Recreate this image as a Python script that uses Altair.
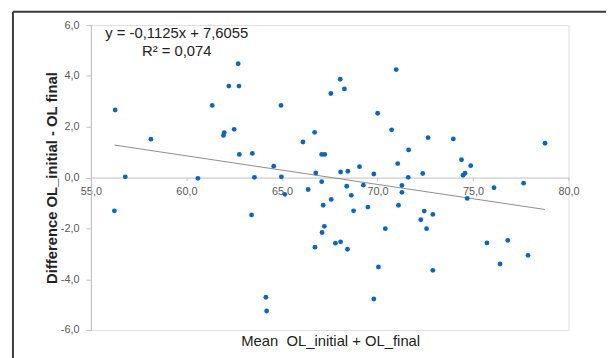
import altair as alt
import pandas as pd
import numpy as np

# Data (mean vs difference)
mean_vals = [56.27, 56.23, 56.80, 58.14, 60.60, 61.35, 61.94, 61.98, 62.22, 62.50,
             62.71, 62.75, 62.77, 63.41, 63.45, 63.56, 64.16, 64.20, 64.57, 64.95,
             64.97, 65.15, 66.10, 66.37, 66.71, 66.73, 66.77, 67.08, 67.08, 67.24,
             67.16, 67.22, 67.10, 67.56, 67.58, 67.80, 68.05, 68.07, 68.07, 68.27,
             68.39, 68.45, 68.43, 68.63, 68.75, 69.06, 69.26, 69.50, 69.81, 69.81,
             70.01, 70.05, 70.41, 70.74, 70.98, 71.06, 71.10, 71.28, 71.28, 71.63,
             71.61, 72.27, 72.37, 72.45, 72.57, 72.65, 72.90, 72.90, 73.97, 74.40,
             74.48, 74.58, 74.70, 74.88, 75.73, 76.10, 76.42, 76.82, 77.65, 77.88,
             78.77]
diff_vals = [2.66, -1.31, 0.03, 1.51, -0.03, 2.84, 1.66, 1.77, 3.60, 1.90,
             4.48, 3.60, 0.91, -1.47, 0.95, 0.01, -4.71, -5.25, 0.45, 2.84,
             0.03, -0.66, 1.40, -0.47, 1.78, -2.74, 0.18, -0.16, 0.91, 0.91,
             -1.09, -1.92, -2.16, 3.31, -0.86, -2.58, 3.87, 0.22, -2.53, 3.49,
             -0.34, 0.25, -2.82, -0.70, -1.31, 0.43, -0.30, -1.16, 0.14, -4.78,
             2.53, -3.52, -2.01, 1.88, 4.25, 0.55, -1.09, -0.31, -0.58, 1.09,
             0.01, -1.66, 0.16, -1.32, -2.01, 1.57, -1.45, -3.65, 1.52, 0.70,
             0.09, 0.17, -0.82, 0.47, -2.57, -0.40, -3.40, -2.47, -0.22, -3.06,
             1.35]

slope = -0.1125
intercept = 7.6055
x_ticks = [55, 60, 65, 70, 75, 80]
y_ticks = [-6, -4, -2, 0, 2, 4, 6]
eq_line1 = "y = -0,1125x + 7,6055"
eq_line2 = "R² = 0,074"
x_title_text = "Mean\u00a0\u00a0OL_initial + OL_final"

W, H = 484, 309
FONT = "Liberation Sans"
LABEL_EXPR = "replace(replace(format(datum.value, '.1f'), '.', ','), '\u2212', '-')"

df = pd.DataFrame({"mean": mean_vals, "diff": diff_vals})
tx = np.array([min(mean_vals), max(mean_vals)])
trend = pd.DataFrame({"mean": tx, "diff": slope * tx + intercept})

xscale = alt.Scale(domain=[55, 80], nice=False, zero=False)
yscale = alt.Scale(domain=[-6, 6], nice=False, zero=False)

points = alt.Chart(df).mark_circle(size=24, color="#0a66c2", opacity=1).encode(
    x=alt.X("mean:Q", scale=xscale, axis=alt.Axis(
        values=x_ticks, labelExpr=LABEL_EXPR, offset=-H / 2, grid=False,
        domainColor="#bfbfbf", tickColor="#bfbfbf", tickSize=3,
        labelColor="#595959", labelFont=FONT, labelFontSize=11, labelPadding=5,
        labelOverlap=False, labelFlush=False, title=None)),
    y=alt.Y("diff:Q", scale=yscale, axis=alt.Axis(
        values=y_ticks, labelExpr=LABEL_EXPR, grid=False,
        domainColor="#bfbfbf", tickColor="#bfbfbf", tickSize=5,
        labelColor="#595959", labelFont=FONT, labelFontSize=11, labelPadding=7,
        labelOverlap=False, labelFlush=False,
        title="Difference OL_initial - OL final", titleFont=FONT, titleFontSize=15,
        titleFontWeight="bold", titleColor="#222222", titleX=-40, titleY=H / 2,
        titleAngle=-90, titleAlign="center", titleBaseline="middle")),
)

line = alt.Chart(trend).mark_line(color="#8c8c8c", strokeWidth=1).encode(
    x=alt.X("mean:Q", scale=xscale),
    y=alt.Y("diff:Q", scale=yscale),
)

one = pd.DataFrame({"a": [0]})

def label(text, x, y, size=15):
    return alt.Chart(one).mark_text(
        font=FONT, fontSize=size, color="#222222", align="center",
        baseline="middle", text=text
    ).encode(x=alt.value(x), y=alt.value(y))

eq1 = label(eq_line1, 87, 8.5)
eq2 = label(eq_line2, 87, 26.5)
x_title = label(x_title_text, 243, 320)

border_top = alt.Chart(one).mark_rule(color="#3a3a3a", strokeWidth=2).encode(
    x=alt.value(-79), x2=alt.value(530), y=alt.value(-13.5))
border_left = alt.Chart(one).mark_rule(color="#3a3a3a", strokeWidth=2).encode(
    x=alt.value(-79), y=alt.value(-13.5), y2=alt.value(340))

chart = alt.layer(line, points, eq1, eq2, x_title, border_top, border_left).properties(
    width=W, height=H,
    autosize=alt.AutoSizeParams(type="none"),
    padding={"left": 84, "top": 15, "right": 38, "bottom": 26},
).configure_view(stroke=None).configure(background="white")

chart.save("out.html", embed_options={"renderer": "svg", "actions": False})
